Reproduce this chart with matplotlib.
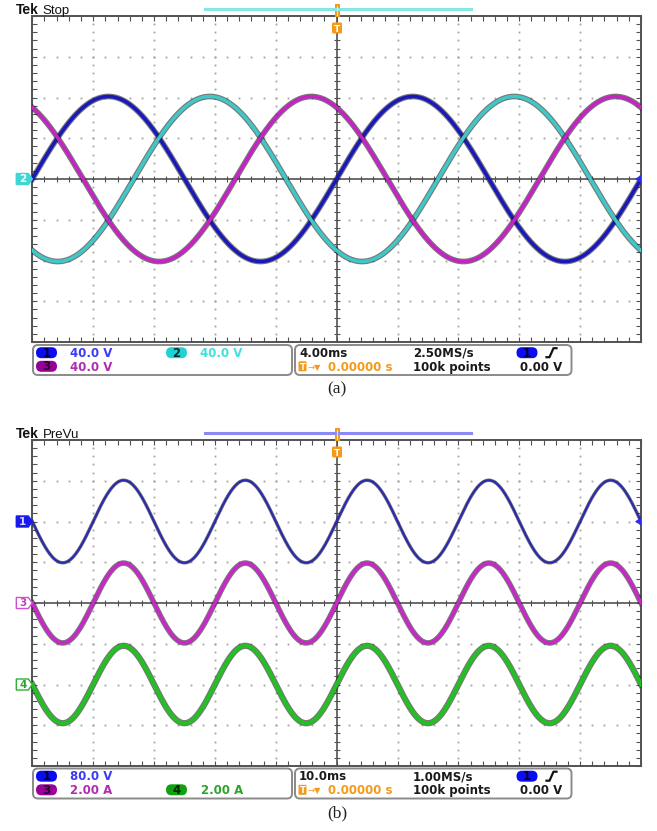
import numpy as np
import matplotlib.pyplot as plt
import matplotlib.patheffects as pe
import matplotlib.transforms as mtransforms
from matplotlib.patches import FancyBboxPatch, Polygon, Rectangle
from matplotlib.lines import Line2D

W, H = 657, 831
SCREEN_W, SCREEN_H = 608.7, 326.0
EDGE = '#525252'
DOT = '#a2a2a2'
ORANGE = '#f59a18'
INFO_FONT = ['DejaVu Sans']

freq_hz = 50.0

# (a) three phase voltages, 4 ms/div
time_div_a = 4.0
scale_a = [40.0, 40.0, 40.0]          # V/div
amp_a = [81.0, 81.0, 81.0]            # V peak
phase_a = [0.0, -120.0, 120.0]        # deg
offset_a = [0.0, 0.0, 0.0]            # div
colors_a = ['#1818bc', '#3fc8c8', '#c622c6']
labels_a = ['40.0 V', '40.0 V', '40.0 V']

# (b) voltage and two currents, 10 ms/div
time_div_b = 10.0
scale_b = [80.0, 2.0, 2.0]            # V/div, A/div, A/div
amp_b = [81.0, 1.96, 1.90]
phase_b = [0.0, 0.0, 0.0]
offset_b = [2.0, 0.0, -2.0]
colors_b = ['#2a2ab0', '#c828c8', '#22c022']
labels_b = ['80.0 V', '2.00 A', '2.00 A']

fig = plt.figure(figsize=(W / 100, H / 100), dpi=100)
# pixel coordinates, origin top-left
px = mtransforms.Affine2D().scale(1 / W, -1 / H).translate(0, 1) + fig.transFigure


def make_screen(top, tdiv):
    ax = fig.add_axes([32.3 / W, 1 - (top + SCREEN_H) / H, SCREEN_W / W, SCREEN_H / H])
    ax.set_xlim(-5 * tdiv, 5 * tdiv)
    ax.set_ylim(-4, 4)
    ax.set_xticks(np.arange(-5, 5.01, 1) * tdiv)
    ax.set_xticks(np.arange(-5, 5.01, 0.2) * tdiv, minor=True)
    ax.set_yticks(np.arange(-4, 4.01, 1))
    ax.set_yticks(np.arange(-4, 4.01, 0.2), minor=True)
    ax.tick_params(which='both', direction='in', top=True, right=True,
                   labelbottom=False, labelleft=False, color=EDGE, width=0.8, length=3.5)
    for s in ax.spines.values():
        s.set_color(EDGE)
        s.set_linewidth(1.4)

    fine_x = np.arange(-5, 5.01, 0.2) * tdiv
    fine_y = np.arange(-4, 4.01, 0.2)
    for k in range(-4, 5):
        if k != 0:
            ax.plot(np.full_like(fine_y, k * tdiv), fine_y, ls='none', marker='s',
                    ms=1.3, mew=0, color=DOT, zorder=1)
    for k in range(-3, 4):
        if k != 0:
            ax.plot(fine_x, np.full_like(fine_x, float(k)), ls='none', marker='s',
                    ms=1.3, mew=0, color=DOT, zorder=1)

    # centre cross with fine ticks
    ax.axhline(0, color=EDGE, lw=1.2, zorder=1)
    ax.axvline(0, color=EDGE, lw=1.2, zorder=1)
    ax.vlines(fine_x, -0.08, 0.08, color=EDGE, lw=0.8, zorder=1)
    ax.hlines(fine_y, -0.05 * tdiv, 0.05 * tdiv, color=EDGE, lw=0.8, zorder=1)
    return ax


def trace(ax, tdiv, scale, amp, phase, offset, color, lw, fringe):
    t = np.linspace(-5 * tdiv, 5 * tdiv, 3000)
    v = amp * np.sin(2 * np.pi * freq_hz * t / 1000 + np.radians(phase))
    ax.plot(t, v / scale + offset, color=color, lw=lw, zorder=3,
            path_effects=[pe.Stroke(linewidth=lw + fringe, foreground='#1e1e1e', alpha=0.6),
                          pe.Normal()])


def ch_marker(ax, level, label, fc, ec, tc):
    tr = ax.get_yaxis_transform()
    w = 1 / SCREEN_W
    h = 5.5 * 8 / SCREEN_H
    verts = [(-16 * w, level - h), (-4 * w, level - h), (0, level),
             (-4 * w, level + h), (-16 * w, level + h)]
    ax.add_patch(Polygon(verts, closed=True, transform=tr, fc=fc, ec=ec, lw=1.0,
                         clip_on=False, zorder=5))
    ax.text(-9.5 * w, level, label, transform=tr, ha='center', va='center',
            fontsize=7.5, fontweight='bold', color=tc, clip_on=False, zorder=6)


def level_marker(ax, level, color):
    tr = ax.get_yaxis_transform()
    w = 1 / SCREEN_W
    h = 4 * 8 / SCREEN_H
    ax.add_patch(Polygon([(1 - 6 * w, level), (1, level + h), (1, level - h)], closed=True,
                         transform=tr, fc=color, ec='none', clip_on=False, zorder=5))


def header(dy, state, bar_color):
    fig.text(16, 14 + dy, 'Tek', transform=px, fontsize=10, fontweight='bold',
             family='Liberation Sans', color='#111111', va='baseline')
    fig.text(42.5, 14 + dy, state, transform=px, fontsize=9.5,
             family='Liberation Sans', color='#111111', va='baseline')
    fig.add_artist(Line2D([205, 471], [9.3 + dy, 9.3 + dy], transform=px,
                          color=bar_color, lw=2.2))
    # trigger position marker
    fig.add_artist(Rectangle((334.8, 4 + dy), 5, 12.5, transform=px, fc=ORANGE, ec='none'))
    fig.add_artist(Line2D([337.3, 337.3], [6 + dy, 14.5 + dy], transform=px,
                          color='#ffe3b0', lw=0.8))
    fig.add_artist(FancyBboxPatch((332, 22.5 + dy), 10, 11, transform=px,
                                  boxstyle='round,pad=0,rounding_size=1.5', fc=ORANGE, ec='none'))
    fig.text(337, 31.5 + dy, 'T', transform=px, fontsize=6.5, fontweight='bold',
             color='white', ha='center', va='baseline')


def badge(x, y, label, fc, tc):
    fig.add_artist(FancyBboxPatch((x, y - 5.5), 21, 11, transform=px,
                                  boxstyle='round,pad=0,rounding_size=5.5', fc=fc, ec='none'))
    fig.text(x + 10.5, y + 4, label, transform=px, ha='center', va='baseline',
             fontsize=8.5, fontweight='bold', color=tc, family=INFO_FONT)


def info_text(x, y, s, color, ha='left'):
    fig.text(x, y + 4.3, s, transform=px, ha=ha, va='baseline', fontsize=8.5,
             fontweight='bold', color=color, family=INFO_FONT)


def info_panel(dy, timebase, rate):
    for x0, w in [(33, 259), (295, 276.5)]:
        fig.add_artist(FancyBboxPatch((x0, 345 + dy), w, 30, transform=px,
                                      boxstyle='round,pad=0,rounding_size=5',
                                      fc='white', ec='#8a8a8a', lw=1.4))
    r1, r2 = 352.7 + dy, 366.3 + dy
    info_text(299, r1, timebase, '#1a1a1a')
    info_text(413, r1, rate, '#1a1a1a')
    badge(516.5, r1, '1', '#0c0cf0', '#00003a')
    fig.add_artist(Line2D([546.5, 549.5, 553.5, 556.5], [r1 + 4.5, r1 + 4.5, r1 - 4.5, r1 - 4.5],
                          transform=px, color='#111111', lw=1.6))
    fig.add_artist(FancyBboxPatch((298.5, r2 - 5), 8, 10, transform=px,
                                  boxstyle='round,pad=0,rounding_size=1', fc=ORANGE, ec='none'))
    fig.text(302.5, r2 + 3.5, 'T', transform=px, fontsize=6, fontweight='bold',
             color='white', ha='center', va='baseline')
    fig.text(307.5, r2 + 3.5, '→▼', transform=px, fontsize=6, color=ORANGE,
             va='baseline', family=INFO_FONT)
    info_text(328, r2, '0.00000 s', ORANGE)
    info_text(413, r2, '100k points', '#1a1a1a')
    info_text(562, r2, '0.00 V', '#1a1a1a', ha='right')


# ---- (a) ----
ax_a = make_screen(16, time_div_a)
for i in range(3):
    trace(ax_a, time_div_a, scale_a[i], amp_a[i], phase_a[i], offset_a[i], colors_a[i], 2.5, 1.6)
ch_marker(ax_a, offset_a[1], '2', '#3fd6d6', '#3fd6d6', 'white')
level_marker(ax_a, offset_a[0], '#2b2bf0')
header(0, 'Stop', '#86e6e6')
info_panel(0, '4.00ms', '2.50MS/s')
r1, r2 = 352.7, 366.3
badge(36, r1, '1', '#0c0cf0', '#00003a')
info_text(70, r1, labels_a[0], '#3b3bf5')
badge(166, r1, '2', '#22d2d2', '#003030')
info_text(200, r1, labels_a[1], '#45dede')
badge(36, r2, '3', '#990099', '#2a002a')
info_text(70, r2, labels_a[2], '#b02cb0')
fig.text(337, 389, '(a)', transform=px, ha='center', va='center',
         fontsize=12.5, family='Liberation Serif', color='#222222')

# ---- (b) ----
DY = 424.0
ax_b = make_screen(16 + DY, time_div_b)
lw_b = [1.5, 2.5, 2.9]
fringe_b = [1.0, 1.5, 1.6]
for i in range(3):
    trace(ax_b, time_div_b, scale_b[i], amp_b[i], phase_b[i], offset_b[i], colors_b[i],
          lw_b[i], fringe_b[i])
ch_marker(ax_b, offset_b[0], '1', '#1a1af0', '#1a1af0', '#d8d8ff')
ch_marker(ax_b, offset_b[1], '3', 'white', '#d050d0', '#c040c0')
ch_marker(ax_b, offset_b[2], '4', 'white', '#30b030', '#30a030')
level_marker(ax_b, offset_b[0], '#2b2bf0')
header(DY, 'PreVu', '#8a8af2')
info_panel(DY - 0.5, '10.0ms', '1.00MS/s')
r1, r2 = 352.7 + DY - 0.5, 366.3 + DY - 0.5
badge(36, r1, '1', '#0c0cf0', '#00003a')
info_text(70, r1, labels_b[0], '#3b3bf5')
badge(36, r2, '3', '#990099', '#2a002a')
info_text(70, r2, labels_b[1], '#b02cb0')
badge(166, r2, '4', '#10a010', '#002a00')
info_text(201, r2, labels_b[2], '#2aa52a')
fig.text(337, 389 + DY, '(b)', transform=px, ha='center', va='center',
         fontsize=12.5, family='Liberation Serif', color='#222222')

fig.savefig('out.png', dpi=100)
